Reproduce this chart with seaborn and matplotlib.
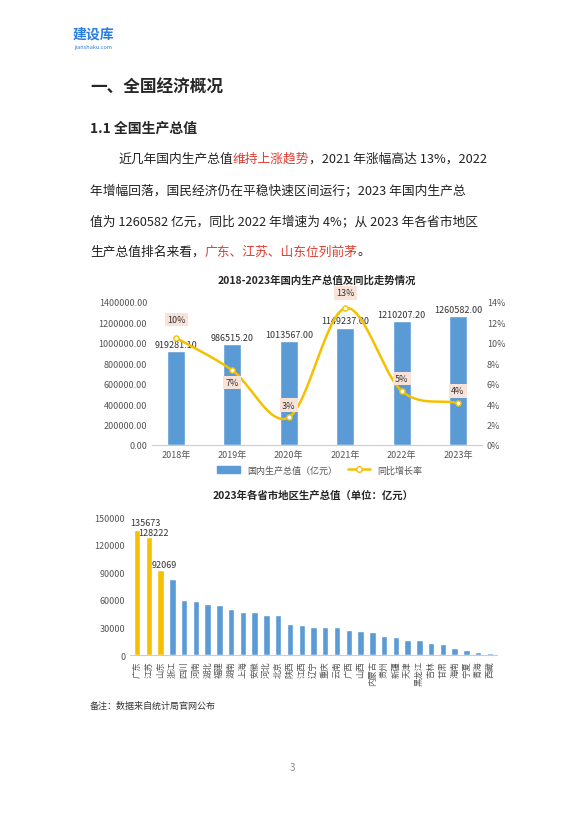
import numpy as np
import pandas as pd
import seaborn as sns
import matplotlib.pyplot as plt
from matplotlib.lines import Line2D
from matplotlib.patches import Patch

years = ['2018年', '2019年', '2020年', '2021年', '2022年', '2023年']
gdp = [919281.10, 986515.20, 1013567.00, 1149237.00, 1210207.20, 1260582.00]
growth = [10.5, 7.3, 2.7, 13.4, 5.3, 4.1]
growth_labels = ['10%', '7%', '3%', '13%', '5%', '4%']

provinces = ['广东', '江苏', '山东', '浙江', '四川', '河南', '湖北', '福建', '湖南', '上海',
             '安徽', '河北', '北京', '陕西', '江西', '辽宁', '重庆', '云南', '广西', '山西',
             '内蒙古', '贵州', '新疆', '天津', '黑龙江', '吉林', '甘肃', '海南', '宁夏', '青海', '西藏']
prov_gdp = [135673, 128222, 92069, 82553, 60133, 59132, 55804, 54355, 50013, 47219,
            47051, 43944, 43761, 33786, 32200, 30209, 30146, 30021, 27202, 25698,
            24627, 20913, 19126, 16737, 15884, 13531, 11864, 7551, 5315, 3799, 2393]

sns.set_style("white")
plt.rcParams['font.family'] = ['Noto Sans CJK SC', 'DejaVu Sans']
plt.rcParams['axes.unicode_minus'] = False

BLUE = '#5b9bd5'
GOLD = '#f5c000'
W, H = 584, 820
fig = plt.figure(figsize=(W / 100, H / 100), dpi=100)
fig.patch.set_facecolor('white')


def fx(x):
    return x / W


def fy(y):
    return 1 - y / H


def rich_line(x, y, parts, size=9.2):
    # draw text pieces one after another, each with its own colour
    r = fig.canvas.get_renderer()
    cx = fx(x)
    for s, c in parts:
        t = fig.text(cx, fy(y), s, color=c, fontsize=size, va='center', ha='left')
        bb = t.get_window_extent(renderer=r)
        cx += bb.width / fig.bbox.width


# header
fig.text(fx(73), fy(35), '建设库', fontsize=10, fontweight='bold', color='#2a7de1', va='center')
fig.text(fx(74), fy(47), 'jianshaku.com', fontsize=4, color='#2a7de1', va='center')
fig.text(fx(90), fy(88), '一、全国经济概况', fontsize=12, fontweight='bold', va='center')
fig.text(fx(90), fy(129), '1.1 全国生产总值', fontsize=10, fontweight='bold', va='center')
RED = '#e03c31'
BLK = '#222222'
rich_line(118, 159, [('近几年国内生产总值', BLK), ('维持上涨趋势', RED), ('，2021 年涨幅高达 13%，2022', BLK)])
rich_line(90, 191, [('年增幅回落，国民经济仍在平稳快速区间运行；2023 年国内生产总', BLK)])
rich_line(90, 222, [('值为 1260582 亿元，同比 2022 年增速为 4%；从 2023 年各省市地区', BLK)])
rich_line(90, 252, [('生产总值排名来看，', BLK), ('广东、江苏、山东位列前茅', RED), ('。', BLK)])

# chart 1
ax = fig.add_axes([fx(152), fy(446), fx(482 - 152), (446 - 303) / H])
df1 = pd.DataFrame({'year': years, 'gdp': gdp})
sns.barplot(data=df1, x='year', y='gdp', color=BLUE, width=0.32, saturation=1, ax=ax)
ax.set_ylim(0, 1400000)
ax.set_yticks(np.arange(0, 1400001, 200000))
ax.set_yticklabels([f'{v:.2f}' for v in np.arange(0, 1400001, 200000)])
ax.set_xlabel('')
ax.set_ylabel('')
ax.tick_params(labelsize=6.5, colors='#555555', length=0)
for s in ['top', 'right', 'left']:
    ax.spines[s].set_visible(False)
ax.spines['bottom'].set_color('#cccccc')
for i, v in enumerate(gdp):
    ax.text(i, v + 25000, f'{v:.2f}', ha='center', va='bottom', fontsize=6.5, color='#333333')
ax.set_title('2018-2023年国内生产总值及同比走势情况', fontsize=7.5, fontweight='bold', pad=14)

ax2 = ax.twinx()
xs = np.arange(len(growth))
g = np.array(growth)
# smooth curve via cubic hermite through the points
m = np.gradient(g)
xx, yy = [], []
for i in range(len(g) - 1):
    t = np.linspace(0, 1, 30)
    h00 = 2 * t**3 - 3 * t**2 + 1
    h10 = t**3 - 2 * t**2 + t
    h01 = -2 * t**3 + 3 * t**2
    h11 = t**3 - t**2
    yy.extend(h00 * g[i] + h10 * m[i] + h01 * g[i + 1] + h11 * m[i + 1])
    xx.extend(i + t)
ax2.plot(xx, yy, color=GOLD, lw=1.8)
sns.scatterplot(x=xs, y=g, ax=ax2, color='white', edgecolor=GOLD, s=14, linewidth=1, zorder=5)
ax2.set_ylim(0, 14)
ax2.set_yticks(range(0, 15, 2))
ax2.set_yticklabels([f'{v}%' for v in range(0, 15, 2)])
ax2.tick_params(labelsize=6.5, colors='#555555', length=0)
for s in ax2.spines.values():
    s.set_visible(False)
offsets = [1.8, -1.2, 1.2, 1.5, 1.2, 1.2]
for i, (v, lab, o) in enumerate(zip(growth, growth_labels, offsets)):
    ax2.text(i, v + o, lab, ha='center', va='center', fontsize=6.5, color='#333333',
             bbox=dict(boxstyle='square,pad=0.25', fc='#f9e3d8', ec='none'))
handles = [Patch(color=BLUE, label='国内生产总值（亿元）'),
           Line2D([0], [0], color=GOLD, lw=1.8, marker='o', mfc='white', ms=4, label='同比增长率')]
fig.legend(handles=handles, loc='center', bbox_to_anchor=(fx(320), fy(471)), ncol=2,
           frameon=False, fontsize=6.5, handlelength=2.5, columnspacing=1.2, labelcolor='#555555')

# chart 2
bx = fig.add_axes([fx(130), fy(656), fx(497 - 130), (656 - 518) / H])
df2 = pd.DataFrame({'prov': provinces, 'gdp': prov_gdp})
colors = [GOLD] * 3 + [BLUE] * (len(provinces) - 3)
sns.barplot(data=df2, x='prov', y='gdp', hue='prov', palette=colors, legend=False,
            width=0.55, saturation=1, ax=bx)
bx.set_ylim(0, 150000)
bx.set_yticks(range(0, 150001, 30000))
bx.set_xlabel('')
bx.set_ylabel('')
bx.tick_params(axis='y', labelsize=6.5, colors='#555555', length=0)
bx.tick_params(axis='x', labelsize=6, colors='#555555', length=0, rotation=90)
bx.set_xlim(-0.6, len(provinces) - 0.4)
for s in ['top', 'right', 'left']:
    bx.spines[s].set_visible(False)
bx.spines['bottom'].set_color('#cccccc')
label_dx = [0.7, 0.4, 0.3]
label_dy = [4000, 0, 1000]
for i in range(3):
    bx.text(i + label_dx[i], prov_gdp[i] + label_dy[i], str(prov_gdp[i]), ha='center', va='bottom',
            fontsize=6.5, color='#333333')
bx.set_title('2023年各省市地区生产总值（单位：亿元）', fontsize=7.5, fontweight='bold', pad=14)

fig.text(fx(90), fy(706), '备注：数据来自统计局官网公布', fontsize=6.5, va='center', color='#333333')
fig.text(0.5, fy(768), '3', fontsize=7, ha='center', va='center', color='#888888')

fig.savefig('out.png', dpi=100)
